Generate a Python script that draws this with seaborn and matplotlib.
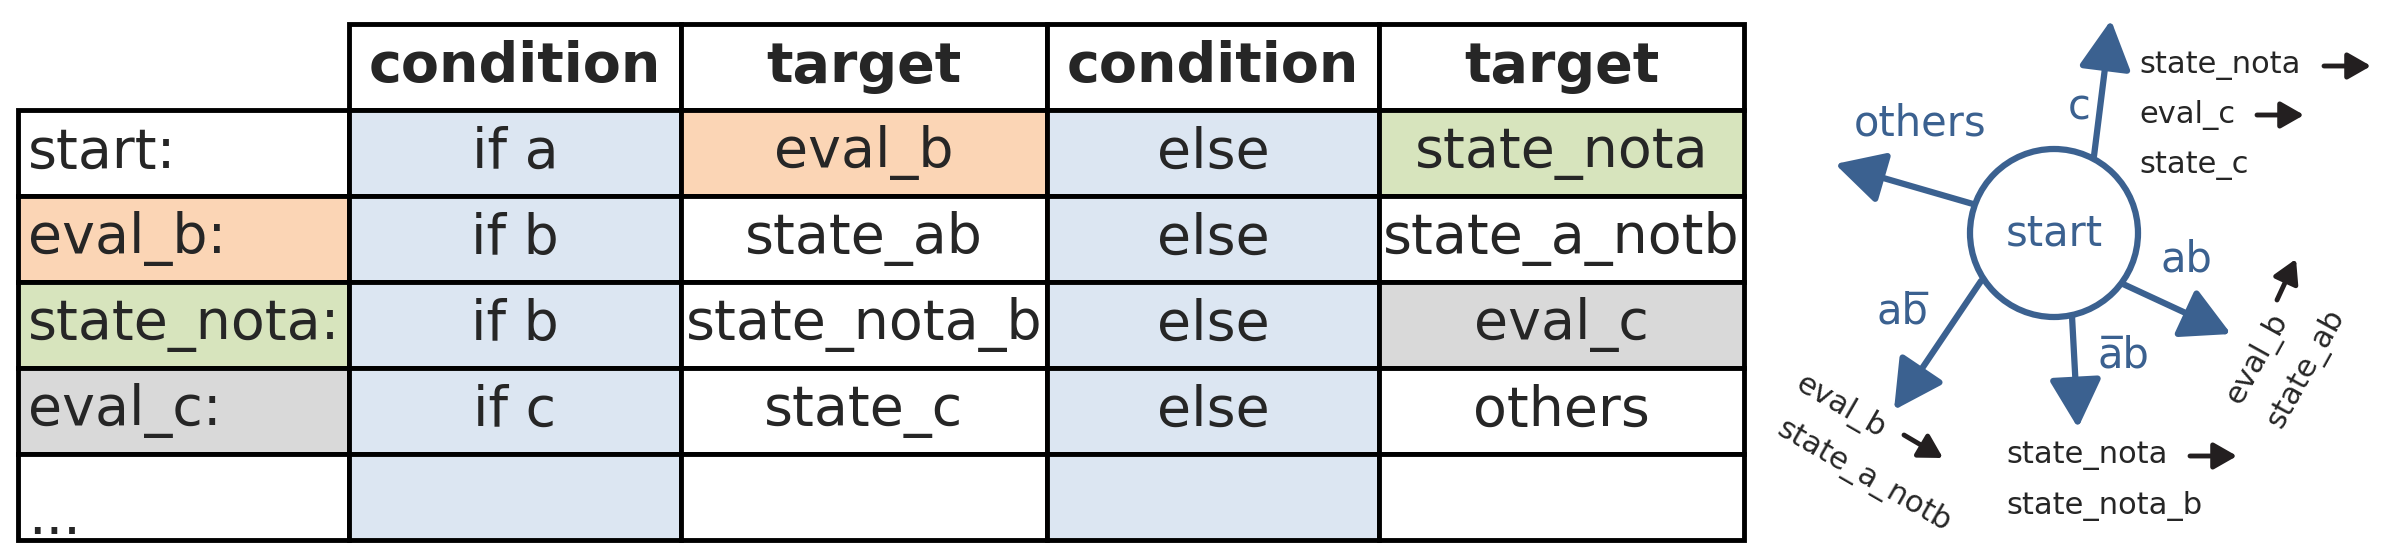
import matplotlib
matplotlib.use('Agg')
import matplotlib.pyplot as plt
from matplotlib.patches import Rectangle, Circle, FancyArrowPatch
import seaborn as sns

sns.set_theme(style='white')
plt.rcParams['font.family'] = ['Liberation Sans Narrow', 'DejaVu Sans']

# table content
header = ['', 'condition', 'target', 'condition', 'target']
row_labels = ['start:', 'eval_b:', 'state_nota:', 'eval_c:', '...']
cond1 = ['if a', 'if b', 'if b', 'if c', '']
target1 = ['eval_b', 'state_ab', 'state_nota_b', 'state_c', '']
cond2 = ['else', 'else', 'else', 'else', '']
target2 = ['state_nota', 'state_a_notb', 'eval_c', 'others', '']
label_fill = ['white', 'orange', 'green', 'gray', 'white']
target1_fill = ['orange', 'white', 'white', 'white', 'white']
target2_fill = ['green', 'white', 'gray', 'white', 'white']

# state diagram content
edge_labels = ['c', 'others', 'ab', 'a\u0305b', 'ab\u0305']
edge_targets = [['state_nota', 'eval_c', 'state_c'], [], ['eval_b', 'state_ab'],
                ['state_nota', 'state_nota_b'], ['eval_b', 'state_a_notb']]

palette = {'white': 'white', 'orange': '#FBD5B5', 'green': '#D7E4BD',
           'gray': '#D9D9D9', 'blue': '#DCE6F2'}
dblue = '#3B6190'

fig = plt.figure(figsize=(23.86, 5.57), dpi=100)
ax = fig.add_axes([0, 0, 1, 1])
ax.set_xlim(0, 2386)
ax.set_ylim(557, 0)
ax.axis('off')

col_x = [18, 349, 681, 1047, 1379, 1744]
row_y = [24, 110, 196, 282, 368, 454, 540]
fs = 40

columns = [row_labels, cond1, target1, cond2, target2]
fills = [label_fill, ['blue'] * 5, target1_fill, ['blue'] * 5, target2_fill]

# header row
for c in range(1, 5):
    ax.add_patch(Rectangle((col_x[c], row_y[0]), col_x[c + 1] - col_x[c],
                           row_y[1] - row_y[0], fc='white', ec='black', lw=3.5))
    ax.text((col_x[c] + col_x[c + 1]) / 2, (row_y[0] + row_y[1]) / 2, header[c],
            ha='center', va='center', fontsize=fs, fontweight='bold')

for c, (vals, fl) in enumerate(zip(columns, fills)):
    for r, (v, f) in enumerate(zip(vals, fl)):
        y0, y1 = row_y[r + 1], row_y[r + 2]
        ax.add_patch(Rectangle((col_x[c], y0), col_x[c + 1] - col_x[c], y1 - y0,
                               fc=palette[f], ec='black', lw=3.5))
        if c == 0:
            yy = (y0 + y1) / 2 + (22 if v == '...' else 0)
            ax.text(col_x[c] + 10, yy, v, ha='left', va='center', fontsize=fs)
        else:
            ax.text((col_x[c] + col_x[c + 1]) / 2, (y0 + y1) / 2, v,
                    ha='center', va='center', fontsize=fs)

# state diagram
cx, cy, rad = 2054, 233, 84
ax.add_patch(Circle((cx, cy), rad, fc='white', ec=dblue, lw=4.5))
ax.text(cx, cy, 'start', ha='center', va='center', fontsize=30, color=dblue)

arrows = [((2094, 156), (2111, 20)), ((1973, 204), (1835, 164)),
          ((2123, 284), (2231, 334)), ((2072, 316), (2078, 428)),
          ((1981, 281), (1894, 410))]
label_pos = [(2079, 107), (1920, 123), (2186, 259), (2123, 355), (1902, 311)]
for (p0, p1), lab, lp in zip(arrows, edge_labels, label_pos):
    ax.add_patch(FancyArrowPatch(p0, p1, arrowstyle='-|>,head_length=30,head_width=16',
                                 mutation_scale=1, lw=4.5, color=dblue,
                                 shrinkA=0, shrinkB=0))
    ax.text(lp[0], lp[1], lab, ha='center', va='center', fontsize=30, color=dblue)

tfs = 22
blk = '#231F20'


def small_arrow(p0, p1):
    ax.add_patch(FancyArrowPatch(p0, p1, arrowstyle='-|>,head_length=14,head_width=8',
                                 mutation_scale=1, lw=3.5, color=blk,
                                 shrinkA=0, shrinkB=0))


for t, y in zip(edge_targets[0], [66, 115, 165]):
    ax.text(2139, y, t, ha='left', va='center', fontsize=tfs)
small_arrow((2324, 66), (2371, 66))
small_arrow((2257, 115), (2304, 115))

for t, y in zip(edge_targets[3], [456, 506]):
    ax.text(2006, y, t, ha='left', va='center', fontsize=tfs)
small_arrow((2190, 456), (2237, 456))

for t, pos in zip(edge_targets[2], [(2257, 359), (2306, 368)]):
    ax.text(pos[0], pos[1], t, ha='center', va='center', fontsize=tfs,
            rotation=61, rotation_mode='anchor')
small_arrow((2277, 300), (2296, 259))

for t, pos in zip(edge_targets[4], [(1841, 407), (1864, 476)]):
    ax.text(pos[0], pos[1], t, ha='center', va='center', fontsize=tfs,
            rotation=-30, rotation_mode='anchor')
small_arrow((1904, 435), (1943, 458))

fig.savefig('out.png', dpi=100, facecolor='white')
